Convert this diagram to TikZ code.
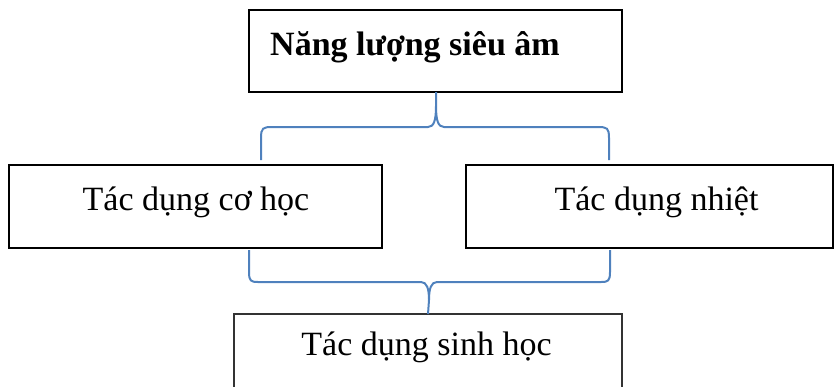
\documentclass[tikz,border=0pt]{standalone}
\usepackage{fontspec}
\setmainfont{Liberation Serif}
\definecolor{bracecol}{RGB}{79,129,189}
\begin{document}
\begin{tikzpicture}[x=1pt,y=-1pt,
  boxstyle/.style={draw=black,line width=2.4pt,rectangle,inner sep=0pt},
  lbl/.style={anchor=base,inner sep=0pt,font=\fontsize{34}{40}\selectfont},
  bracestyle/.style={draw=bracecol,line width=2pt}]
\useasboundingbox (0,0) rectangle (837,386);
\clip (0,0) rectangle (837,386);
% boxes
\node[boxstyle,minimum width=373pt,minimum height=82pt] (top) at (435.5,51) {};
\node[boxstyle,minimum width=373pt,minimum height=83pt] (mech) at (195.5,206.5) {};
\node[boxstyle,minimum width=367pt,minimum height=83pt] (heat) at (649.5,206.5) {};
\coordinate (bl) at (234,314);
\coordinate (br) at (622,314);
\draw[draw=black!80,line width=1.6pt] (234,400) -- (bl) -- (br) -- (622,400);
\node[inner sep=0pt] (bio) at (428,350) {};
% labels
\node[lbl,font=\fontsize{34}{40}\selectfont\bfseries,anchor=base west] (ttop) at (270,55) {Năng lượng siêu âm};
\node[lbl] (tmech) at (196,210) {Tác dụng cơ học};
\node[lbl] (theat) at (656.5,210) {Tác dụng nhiệt};
\node[lbl] (tbio) at (426.5,355) {Tác dụng sinh học};
% upper brace
\coordinate (ua) at (261,160);
\coordinate (ub) at (609,160);
\coordinate (ut) at (top.south);
\draw[bracestyle] (ua) -- (261,138) .. controls (261,128) and (263,127) .. (272,127)
  -- (428,127) .. controls (434,127) and (436,120) .. (436,106) -- (436,92)
  (436,106) .. controls (436,120) and (438,127) .. (444,127)
  -- (598,127) .. controls (607,127) and (609,128) .. (609,138) -- (ub);
% lower brace
\coordinate (la) at (249,250);
\coordinate (lb) at (610,250);
\draw[bracestyle] (la) -- (249,272) .. controls (249,281) and (251,282) .. (258,282)
  -- (421,282) .. controls (427,282) and (429,289) .. (429,300) -- (bl -| bio)
  (429,300) .. controls (429,289) and (431,282) .. (437,282)
  -- (601,282) .. controls (608,282) and (610,281) .. (610,272) -- (lb);
\end{tikzpicture}
\end{document}
